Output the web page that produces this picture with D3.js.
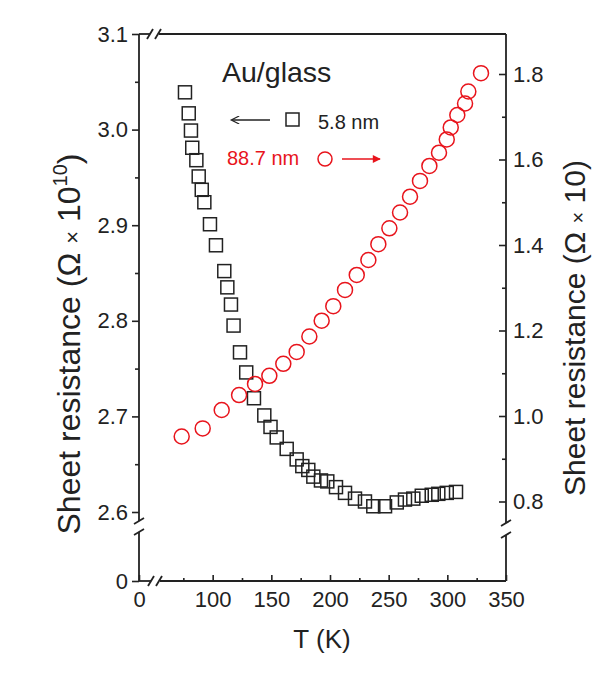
<!DOCTYPE html>
<html>
<head>
<meta charset="utf-8">
<script src="https://cdn.jsdelivr.net/npm/d3@7"></script>
<style>
  body { margin: 0; background: #fff; }
  svg { font-family: Arial, "Liberation Sans", sans-serif; }
  .tick text { font-size: 22px; fill: #222; }
  .tick line { stroke: #222; stroke-width: 1.6; }
</style>
</head>
<body>
<svg width="615" height="685"></svg>
<script>
// 5.8 nm film (left axis, x 10^10 ohm)
var t58 = [76.4, 79.6, 81.5, 82.6, 86.1, 88.1, 90.7, 92.9, 97.7, 102.8, 109.9, 112.5, 115.6, 117.8,
           123.3, 128.6, 135.2, 144.0, 149.3, 154.6, 163.1, 171.6, 176.4, 181.5, 185.8, 192.3, 197.7,
           205.1, 212.8, 221.3, 229.8, 236.9, 246.9, 256.9, 263.9, 271.0, 278.2, 286.7, 292.3, 299.5, 307.4];
var r58 = [3.039, 3.017, 2.999, 2.981, 2.968, 2.951, 2.937, 2.924, 2.901, 2.879, 2.852, 2.835, 2.817, 2.795,
           2.767, 2.746, 2.719, 2.701, 2.689, 2.678, 2.666, 2.655, 2.648, 2.644, 2.637, 2.633, 2.632,
           2.626, 2.620, 2.614, 2.611, 2.606, 2.606, 2.610, 2.613, 2.614, 2.617, 2.618, 2.619, 2.620, 2.621];

// 88.7 nm film (right axis)
var t887 = [73.6, 91.5, 107.7, 122.5, 136.1, 148.3, 160.2, 171.6, 182.4, 192.9, 202.8, 212.8, 222.8, 232.7,
            241.2, 250.6, 259.7, 268.2, 276.7, 284.7, 292.9, 299.5, 302.9, 308.5, 315.1, 317.9, 328.7];
var r887 = [0.952, 0.971, 1.014, 1.049, 1.075, 1.094, 1.122, 1.150, 1.186, 1.223, 1.257, 1.295, 1.330, 1.365,
            1.402, 1.439, 1.476, 1.513, 1.550, 1.585, 1.616, 1.647, 1.675, 1.704, 1.731, 1.759, 1.802];

var xTicks = [100, 150, 200, 250, 300, 350];
var xMinor = [75, 125, 175, 225, 275, 325];
var yLeftTicks = [2.6, 2.7, 2.8, 2.9, 3.0, 3.1];
var yLeftMinor = [2.65, 2.75, 2.85, 2.95, 3.05];
var yRightTicks = [0.8, 1.0, 1.2, 1.4, 1.6, 1.8];
var yRightMinor = [0.9, 1.1, 1.3, 1.5, 1.7];

var svg = d3.select("svg");
var L = 139, R = 506, T = 34, B = 581;

var x = d3.scaleLinear().domain([50, 350]).range([154, 506]);
var x0 = d3.scaleLinear().domain([0, 10]).range([L, 151]);
var yL = d3.scaleLinear().domain([2.6, 3.1]).range([512, 34]);
var yL0 = d3.scaleLinear().domain([0, 0.5]).range([B, 533]);
var yR = d3.scaleLinear().domain([0.8, 1.8]).range([501.5, 74]);

var ink = "#222";
var red = "#e8141c";

// frame pieces, leaving gaps for the breaks
function seg(x1, y1, x2, y2) {
  svg.append("line").attr("x1", x1).attr("y1", y1).attr("x2", x2).attr("y2", y2)
    .attr("stroke", ink).attr("stroke-width", 1.8);
}
seg(L, B, 151, B); seg(160, B, R, B);          // bottom
seg(L, T, 150, T); seg(159, T, R, T);          // top
seg(L, T, L, 521); seg(L, 532, L, B);          // left
seg(R, T, R, 523); seg(R, 535, R, B);          // right

// break marks
function brkH(cx, cy) { seg(cx - 3, cy + 5, cx + 3, cy - 5); }
function brkV(cx, cy) { seg(cx - 5, cy + 3, cx + 5, cy - 3); }
brkH(151, B); brkH(159, B);
brkH(150, T); brkH(158, T);
brkV(L, 521); brkV(L, 532);
brkV(R, 523); brkV(R, 535);

// axes (ticks only)
function clean(g) { g.select(".domain").remove(); }

svg.append("g").attr("transform", "translate(0," + B + ")")
  .call(d3.axisBottom(x).tickValues(xTicks).tickSize(-6).tickPadding(10)).call(clean);
svg.append("g").attr("transform", "translate(0," + B + ")")
  .call(d3.axisBottom(x).tickValues(xMinor).tickSize(-3).tickFormat("")).call(clean);
svg.append("g").attr("transform", "translate(0," + B + ")")
  .call(d3.axisBottom(x0).tickValues([0]).tickSize(-6).tickPadding(10).tickFormat(d3.format("d"))).call(clean);

svg.append("g").attr("transform", "translate(" + L + ",0)")
  .call(d3.axisLeft(yL).tickValues(yLeftTicks).tickSize(7).tickPadding(4).tickFormat(d3.format(".1f"))).call(clean);
svg.append("g").attr("transform", "translate(" + L + ",0)")
  .call(d3.axisLeft(yL).tickValues(yLeftMinor).tickSize(4).tickFormat("")).call(clean);
svg.append("g").attr("transform", "translate(" + L + ",0)")
  .call(d3.axisLeft(yL0).tickValues([0]).tickSize(7).tickPadding(4).tickFormat(d3.format("d"))).call(clean);

svg.append("g").attr("transform", "translate(" + R + ",0)")
  .call(d3.axisRight(yR).tickValues(yRightTicks).tickSize(-7).tickPadding(7).tickFormat(d3.format(".1f"))).call(clean);
svg.append("g").attr("transform", "translate(" + R + ",0)")
  .call(d3.axisRight(yR).tickValues(yRightMinor).tickSize(-4).tickFormat("")).call(clean);

// data
var sq = 13;
svg.append("g").selectAll("rect")
  .data(t58.map(function(d, i) { return { t: d, r: r58[i] }; }))
  .enter().append("rect")
  .attr("x", function(d) { return x(d.t) - sq / 2; })
  .attr("y", function(d) { return yL(d.r) - sq / 2; })
  .attr("width", sq).attr("height", sq)
  .attr("fill", "none").attr("stroke", ink).attr("stroke-width", 1.5);

svg.append("g").selectAll("circle")
  .data(t887.map(function(d, i) { return { t: d, r: r887[i] }; }))
  .enter().append("circle")
  .attr("cx", function(d) { return x(d.t); })
  .attr("cy", function(d) { return yR(d.r); })
  .attr("r", 7.5)
  .attr("fill", "none").attr("stroke", red).attr("stroke-width", 1.5);

// labels
svg.append("text").attr("x", 222).attr("y", 82).attr("font-size", 28.5).attr("fill", ink).text("Au/glass");

var defs = svg.append("defs");
defs.append("marker").attr("id", "ahB").attr("viewBox", "0 0 10 10").attr("refX", 9).attr("refY", 5)
  .attr("markerWidth", 12).attr("markerHeight", 8).attr("markerUnits", "userSpaceOnUse").attr("orient", "auto")
  .append("path").attr("d", "M0,0 L10,5 L0,10").attr("fill", "none").attr("stroke", ink).attr("stroke-width", 1.5);
defs.append("marker").attr("id", "ahR").attr("viewBox", "0 0 10 10").attr("refX", 9).attr("refY", 5)
  .attr("markerWidth", 12).attr("markerHeight", 8).attr("markerUnits", "userSpaceOnUse").attr("orient", "auto")
  .append("path").attr("d", "M0,0 L10,5 L0,10 z").attr("fill", red);

svg.append("line").attr("x1", 270).attr("y1", 120).attr("x2", 232).attr("y2", 120)
  .attr("stroke", ink).attr("stroke-width", 1.6).attr("marker-end", "url(#ahB)");
svg.append("rect").attr("x", 286).attr("y", 113).attr("width", sq).attr("height", sq)
  .attr("fill", "none").attr("stroke", ink).attr("stroke-width", 1.5);
svg.append("text").attr("x", 318).attr("y", 129).attr("font-size", 20).attr("fill", ink).text("5.8 nm");

svg.append("text").attr("x", 227).attr("y", 165).attr("font-size", 20).attr("fill", red).text("88.7 nm");
svg.append("circle").attr("cx", 325).attr("cy", 159).attr("r", 7)
  .attr("fill", "none").attr("stroke", red).attr("stroke-width", 1.5);
svg.append("line").attr("x1", 342).attr("y1", 159).attr("x2", 380).attr("y2", 159)
  .attr("stroke", red).attr("stroke-width", 1.6).attr("marker-end", "url(#ahR)");

svg.append("text").attr("x", 322).attr("y", 648).attr("text-anchor", "middle")
  .attr("font-size", 26).attr("fill", ink).text("T (K)");

var lt = svg.append("text").attr("transform", "translate(80,344) rotate(-90)")
  .attr("text-anchor", "middle").attr("font-size", 32).attr("fill", ink);
lt.append("tspan").text("Sheet resistance (Ω ");
lt.append("tspan").attr("font-size", 22).text("×");
lt.append("tspan").text(" 10");
lt.append("tspan").attr("font-size", 20).attr("dy", -13).text("10");
lt.append("tspan").attr("dy", 13).text(")");

var rt = svg.append("text").attr("transform", "translate(585,328) rotate(-90)")
  .attr("text-anchor", "middle").attr("font-size", 30).attr("fill", ink);
rt.append("tspan").text("Sheet resistance (Ω ");
rt.append("tspan").attr("font-size", 20).text("×");
rt.append("tspan").text(" 10)");
</script>
</body>
</html>
